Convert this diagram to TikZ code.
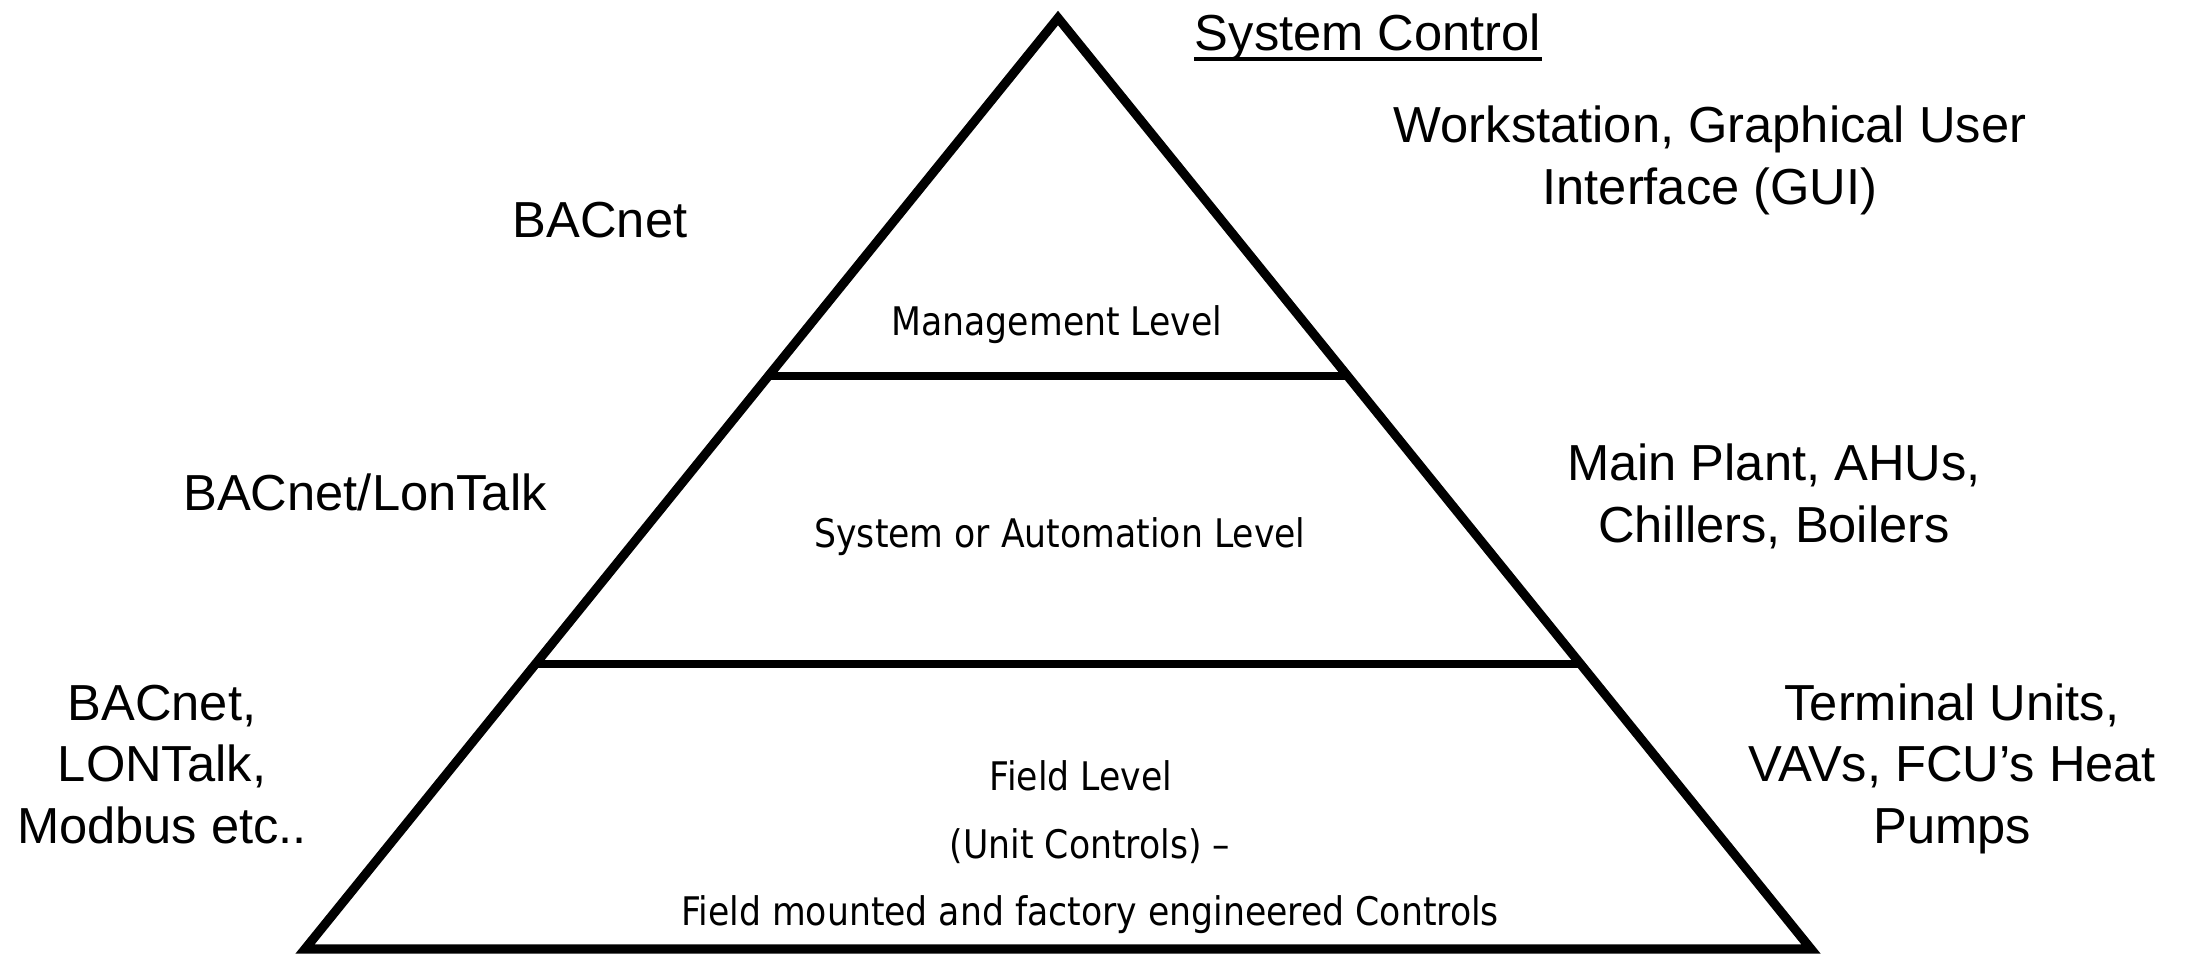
\documentclass[tikz,border=0pt]{standalone}
\usepackage{fontspec}
\setmainfont{Liberation Sans}
\newfontfamily\levelfont[FakeStretch=0.88]{DejaVu Sans}
\usetikzlibrary{positioning, calc}

\begin{document}
\begin{tikzpicture}[
    x=0.01cm, y=-0.01cm,
    outline/.style={line width=2.6pt, line join=miter},
    divider/.style={line width=2.4pt},
    sidetext/.style={inner sep=0pt, anchor=base, align=center, font=\fontsize{14.4}{17.4}\selectfont},
    leveltext/.style={inner sep=0pt, anchor=base, font=\levelfont\fontsize{11.2}{13.5}\selectfont}
]
    \useasboundingbox (0,0) rectangle (2188,953);

    % Pyramid outline
    \coordinate (apex) at (1058,18);
    \coordinate (bl) at (305,949);
    \coordinate (br) at (1811,949);
    \draw[outline] (apex) -- (br) -- (bl) -- cycle;

    % Level dividers
    \draw[divider] ($(apex)!0.3845!(bl)$) -- ($(apex)!0.3845!(br)$);
    \draw[divider] ($(apex)!0.6939!(bl)$) -- ($(apex)!0.6939!(br)$);

    % Levels
    \node[leveltext] (mgmt) at (1057,335) {Management Level};
    \node[leveltext] (auto) at (1060,547) {System or Automation Level};
    \node[leveltext] (field) at (1081,790) {Field Level};
    \node[leveltext] (unit) at (1090,858) {(Unit Controls) –};
    \node[leveltext] (mounted) at (1090,925) {Field mounted and factory engineered Controls};

    % Protocols on the left (base = last line)
    \node[sidetext] (mgmtproto) at (600,237) {BACnet};
    \node[sidetext] (autoproto) at (365,510) {BACnet/LonTalk};
    \node[sidetext] (fieldproto) at (162,843) {BACnet,\\LONTalk,\\Modbus etc..};

    % Equipment on the right
    \node[sidetext] (sysctl) at (1368,50) {System Control};
    \draw[line width=1.1pt] ($(sysctl.base west)+(0,9)$) -- ($(sysctl.base east)+(0,9)$);
    \node[sidetext] (gui) at (1710,204) {Workstation, Graphical User\\Interface (GUI)};
    \node[sidetext] (plant) at (1774,542) {Main Plant, AHUs,\\Chillers, Boilers};
    \node[sidetext] (terminal) at (1952,843) {Terminal Units,\\VAVs, FCU’s Heat\\Pumps};

\end{tikzpicture}
\end{document}
